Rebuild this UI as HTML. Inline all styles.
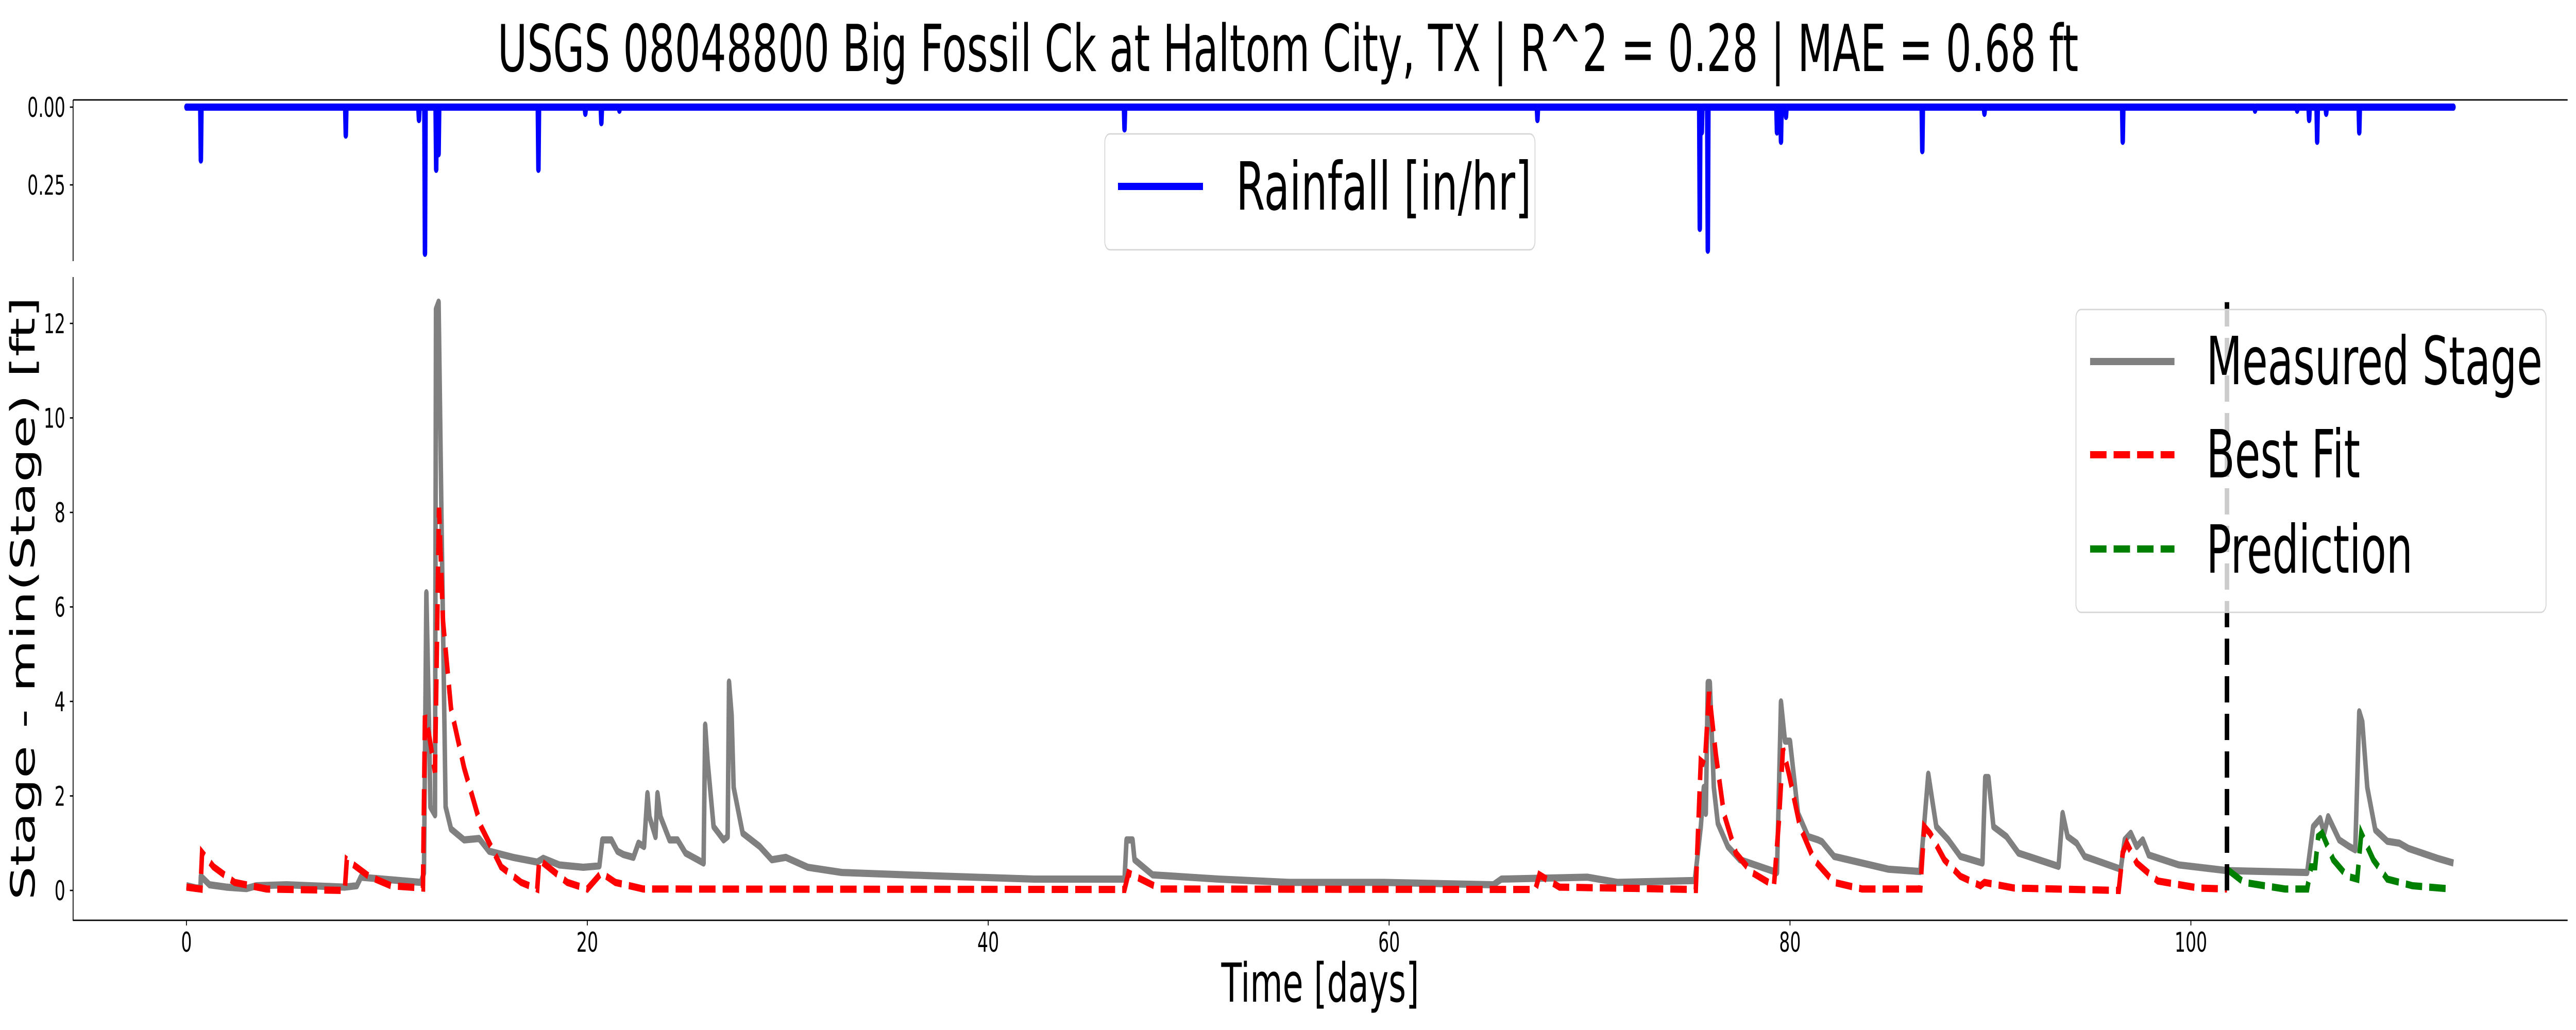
<!DOCTYPE html>
<html><head><meta charset="utf-8"><style>
html,body{margin:0;padding:0;background:#fff;overflow:hidden;width:100%;height:100%;}
svg{display:block;width:100vw;height:100vh;font-family:"DejaVu Sans","Liberation Sans",sans-serif;}
</style></head><body>
<svg id="chart" viewBox="0 0 8000 2000" preserveAspectRatio="none" xmlns="http://www.w3.org/2000/svg">
<text x="4000" y="138" font-size="126" text-anchor="middle">USGS 08048800 Big Fossil Ck at Haltom City, TX | R^2 = 0.28 | MAE = 0.68 ft</text>
<g id="topAx"></g>
<g id="mainAx"></g>
<text x="4100" y="1945" font-size="104" text-anchor="middle">Time [days]</text>
<text transform="translate(107,1162) rotate(-90)" font-size="104" text-anchor="middle">Stage - min(Stage) [ft]</text>
</svg>
<script>
const measuredT=[0,0.5,0.7,0.72,1.15,2,3,3.5,5,7.9,8.5,8.7,11.7,11.85,11.97,12.1,12.17,12.4,12.45,12.58,12.73,12.93,13.2,13.85,14.6,15.1,16.3,17.5,17.8,18.6,19.8,20.6,20.75,21.2,21.5,21.8,22.3,22.55,22.83,23.0,23.1,23.4,23.5,23.65,24.1,24.5,24.9,25.8,25.88,26.0,26.3,26.8,27.0,27.07,27.2,27.3,27.75,28.6,29.2,29.9,31.0,32.7,37.2,42.3,46.8,46.9,47.2,47.3,48.2,51.5,55,59.7,65.2,65.6,69.9,71.4,75.25,75.55,75.7,75.8,75.9,76.0,76.2,76.4,76.9,77.5,79.35,79.55,79.75,80.0,80.4,80.9,81.4,81.6,82.2,84.9,86.5,86.9,87.1,87.3,87.9,88.5,89.6,89.74,89.9,90.15,90.8,91.4,93.4,93.6,93.85,94.3,94.7,96.5,96.7,97.0,97.3,97.6,97.9,99.4,101.8,105.8,106.1,106.45,106.65,106.85,107.4,107.9,108.2,108.4,108.55,108.8,109.2,109.8,110.4,110.85,112.3,113.1];
const measuredV=[0.1,0.05,0.05,0.3,0.12,0.07,0.04,0.1,0.12,0.07,0.1,0.28,0.17,0.37,6.3,3.6,1.77,1.6,12.3,12.45,7.7,1.77,1.3,1.07,1.1,0.83,0.7,0.6,0.68,0.54,0.49,0.52,1.07,1.07,0.83,0.76,0.7,1.0,0.93,2.05,1.56,1.14,2.05,1.56,1.07,1.07,0.79,0.58,3.5,2.74,1.35,1.07,1.14,4.41,3.7,2.18,1.21,0.93,0.65,0.7,0.49,0.38,0.31,0.24,0.24,1.07,1.07,0.65,0.33,0.24,0.17,0.17,0.12,0.24,0.28,0.17,0.21,1.35,2.18,1.63,4.4,4.4,2.18,1.42,0.93,0.65,0.38,3.99,3.16,3.16,1.63,1.14,1.07,1.03,0.72,0.45,0.4,2.46,1.9,1.35,1.07,0.72,0.58,2.39,2.39,1.35,1.14,0.79,0.51,1.63,1.14,1.0,0.72,0.45,1.07,1.21,0.93,1.07,0.75,0.54,0.42,0.38,1.35,1.52,1.21,1.56,1.07,0.93,0.86,3.78,3.57,2.18,1.28,1.04,1.0,0.89,0.68,0.58];
const fitT=[0,0.7,0.78,1.35,2.4,4,7.9,8.0,9.1,10.2,11.8,11.9,12.1,12.4,12.6,12.8,13.2,13.85,14.7,15.7,16.7,17.5,17.6,19.0,20,20.7,21.4,22.8,46.8,47.0,48.6,67.3,67.5,68.5,75.3,75.55,75.75,75.96,76.3,76.7,77.3,78.1,79.2,79.45,79.65,79.95,80.5,81.2,82.2,83.6,86.5,86.7,87.0,87.7,88.5,89.5,89.7,91.2,96.4,96.6,96.8,97.3,98.35,100.4,101.8];
const fitV=[0.07,0.03,0.8,0.5,0.17,0.03,0,0.65,0.3,0.1,0.05,3.7,3.3,2.5,8.1,5.7,3.85,2.6,1.35,0.5,0.17,0.03,0.65,0.17,0.03,0.37,0.17,0.03,0.02,0.37,0.03,0.02,0.33,0.07,0.02,2.74,2.67,4.2,2.88,1.63,0.79,0.38,0.1,1.49,3.0,2.46,1.35,0.65,0.17,0.03,0.03,1.35,1.2,0.65,0.3,0.1,0.17,0.05,0,0.8,1.0,0.58,0.2,0.05,0.03];
const predT=[101.8,102.65,104.7,105.8,106.0,106.2,106.35,106.55,107.1,107.8,108.3,108.5,109.1,109.8,111.05,113.0];
const predV=[0.45,0.17,0.03,0.03,0.5,0.5,1.14,1.21,0.65,0.3,0.24,1.21,0.65,0.24,0.1,0.03];
const rainT=[0.72,7.95,11.6,11.9,12.46,12.58,17.56,19.9,20.7,21.6,46.8,67.4,75.5,75.6,75.9,79.35,79.55,79.8,86.6,89.7,96.6,103.2,105.3,105.9,106.3,106.75,108.4];
const rainV=[0.17,0.09,0.04,0.47,0.2,0.15,0.2,0.02,0.05,0.01,0.07,0.04,0.39,0.08,0.46,0.08,0.11,0.03,0.14,0.02,0.11,0.01,0.01,0.04,0.11,0.02,0.08];
const rainEnd=113.1;
const splitDay=101.8;
const xTicks=[0,20,40,60,80,100];
const yTicks=[0,2,4,6,8,10,12];
const rainTicks=[0,0.25];

const NS="http://www.w3.org/2000/svg";
const X=d=>579+d*62.25;
const Y=v=>1729-v*91.75;
const RY=v=>208+v*604;
function mk(tag,attrs,parent,text){const e=document.createElementNS(NS,tag);for(const k in attrs)e.setAttribute(k,attrs[k]);if(text!==undefined)e.textContent=text;parent.appendChild(e);return e;}
const topG=document.getElementById('topAx'),mainG=document.getElementById('mainAx');

let e=mk('line',{x1:227,y1:194,x2:7974,y2:194,stroke:'#000','stroke-width':2.7},topG);


e=mk('line',{x1:227,y1:194,x2:227,y2:507,stroke:'#000','stroke-width':2.7},topG);


rainTicks.forEach(t=>{
 const tk=mk('line',{x1:217,y1:RY(t),x2:227,y2:RY(t),stroke:'#000','stroke-width':2.7},topG);
 
 
 const lb=mk('text',{x:203,y:RY(t)+19,'font-size':53,'text-anchor':'end'},topG,t.toFixed(2));
 
 
});
let pts=[[0,0]];
rainT.forEach((t,i)=>{pts.push([t-0.03,0]);pts.push([t,rainV[i]]);pts.push([t+0.03,0]);});
pts.push([rainEnd,0]);
e=mk('polyline',{points:pts.map(p=>X(p[0])+','+RY(p[1])).join(' '),fill:'none',stroke:'#0000ff','stroke-width':14,'stroke-linejoin':'round','stroke-linecap':'round'},topG);


let lg=mk('g',{},topG);


mk('rect',{x:3431,y:260,width:1336,height:225,rx:16,fill:'#fff','fill-opacity':0.8,stroke:'#d6d6d6','stroke-width':2.7},lg);
mk('line',{x1:3472,y1:362,x2:3736,y2:362,stroke:'#0000ff','stroke-width':14},lg);
e=mk('text',{x:3839,y:407,'font-size':129},lg,'Rainfall [in/hr]');



e=mk('line',{x1:227,y1:538,x2:227,y2:1787,stroke:'#000','stroke-width':2.7},mainG);


e=mk('line',{x1:226,y1:1787,x2:7974,y2:1787,stroke:'#000','stroke-width':2.7},mainG);


xTicks.forEach(t=>{
 const tk=mk('line',{x1:X(t),y1:1787,x2:X(t),y2:1797,stroke:'#000','stroke-width':2.7},mainG);
 
 
 const lb=mk('text',{x:X(t),y:1848,'font-size':53,'text-anchor':'middle'},mainG,String(t));
 
 
});
yTicks.forEach(t=>{
 const tk=mk('line',{x1:217,y1:Y(t),x2:227,y2:Y(t),stroke:'#000','stroke-width':2.7},mainG);
 
 
 const lb=mk('text',{x:203,y:Y(t)+19,'font-size':53,'text-anchor':'end'},mainG,String(t));
 
 
});
const line=(T,V)=>T.map((t,i)=>X(t)+','+Y(V[i])).join(' ');
e=mk('polyline',{points:line(measuredT,measuredV),fill:'none',stroke:'#808080','stroke-width':14,'stroke-linejoin':'round'},mainG);


e=mk('polyline',{points:line(fitT,fitV),fill:'none',stroke:'#ff0000','stroke-width':14,'stroke-dasharray':'51 22'},mainG);


e=mk('polyline',{points:line(predT,predV),fill:'none',stroke:'#008000','stroke-width':14,'stroke-dasharray':'51 22'},mainG);


const maxV=Math.max(...measuredV);
e=mk('line',{x1:X(splitDay),y1:Y(0),x2:X(splitDay),y2:Y(maxV),stroke:'#000','stroke-width':14,'stroke-dasharray':'51 22'},mainG);


lg=mk('g',{},mainG);


mk('rect',{x:6447,y:601,width:1460,height:588,rx:16,fill:'#fff','fill-opacity':0.8,stroke:'#d6d6d6','stroke-width':2.7},lg);
const items=[['Measured Stage','#808080',702,746,null],['Best Fit','#ff0000',883,927,'51 22'],['Prediction','#008000',1066,1112,'51 22']];
items.forEach(it=>{
 const a={x1:6491,y1:it[2],x2:6753,y2:it[2],stroke:it[1],'stroke-width':14};
 if(it[4])a['stroke-dasharray']=it[4];
 const h=mk('line',a,lg);
 
 
 const t=mk('text',{x:6852,y:it[3],'font-size':129},lg,it[0]);
 
 
});
</script>
</body></html>
